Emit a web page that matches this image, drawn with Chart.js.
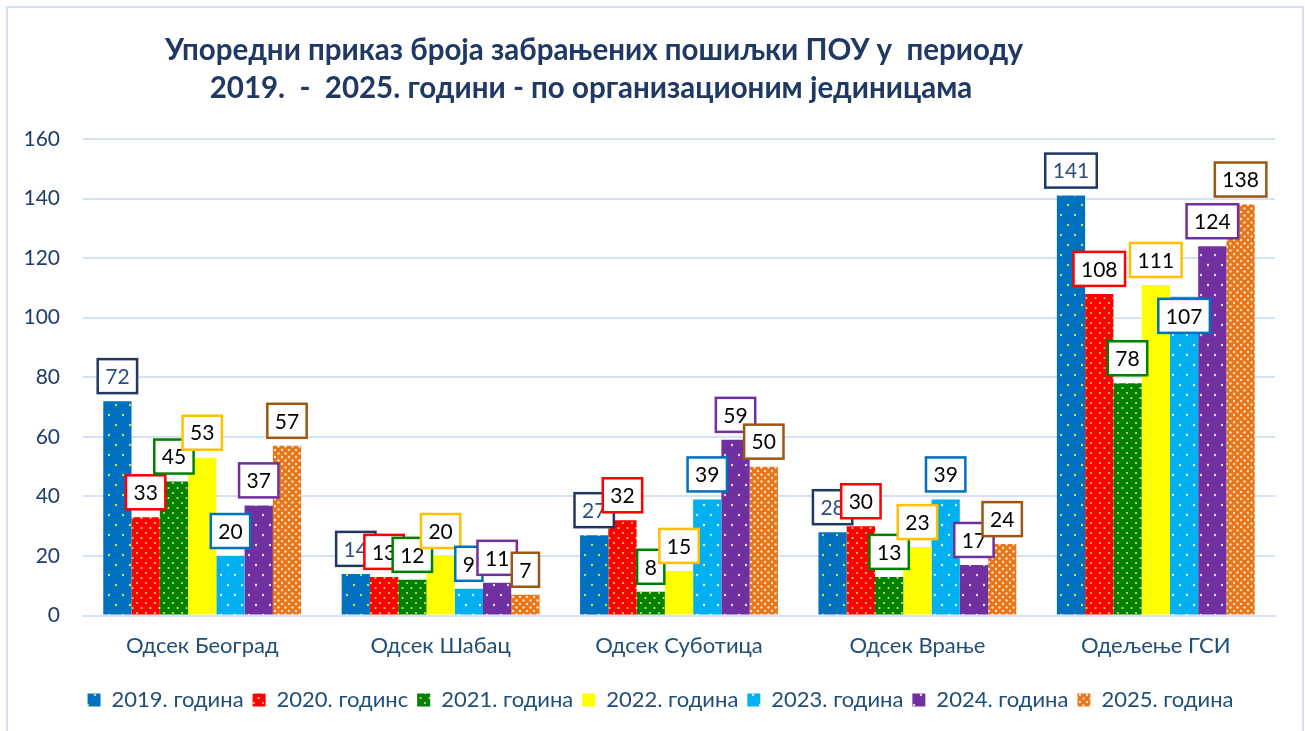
<!DOCTYPE html>
<html>
<head>
<meta charset="utf-8">
<script src="https://cdn.jsdelivr.net/npm/chart.js@4.4.1/dist/chart.umd.min.js"></script>
<style>
  body { margin: 0; background: #fff; }
  #wrap { position: absolute; left: 0; top: 0; width: 1305px; height: 731px; }
  #frame { position: absolute; left: 6px; top: 6px; width: 1294px; height: 740px; border: 2px solid #D5E2F3; pointer-events: none; }
</style>
</head>
<body>
<div id="wrap"><canvas id="chart"></canvas></div>
<div id="frame"></div>
<script>
// categories and values
var categories = ['Одсек Београд', 'Одсек Шабац', 'Одсек Суботица', 'Одсек Врање', 'Одељење ГСИ'];
var seriesNames = ['2019. година', '2020. годинс', '2021. година', '2022. година', '2023. година', '2024. година', '2025. година'];
var y2019 = [72, 14, 27, 28, 141];
var y2020 = [33, 13, 32, 30, 108];
var y2021 = [45, 12, 8, 13, 78];
var y2022 = [53, 20, 15, 23, 111];
var y2023 = [20, 9, 39, 39, 107];
var y2024 = [37, 11, 59, 17, 124];
var y2025 = [57, 7, 50, 24, 138];
var yTicks = [0, 20, 40, 60, 80, 100, 120, 140, 160];

var titleLines = ['Упоредни приказ броја забрањених пошиљки ПОУ у  периоду',
                  '2019.  -  2025. години - по организационим јединицама'];

var FONT = "Lato, 'Noto Sans', sans-serif";

// dotted fills like the office pattern fills
function dots(bg, dot, w, h, pts, r) {
    var c = document.createElement('canvas');
    c.width = w; c.height = h;
    var g = c.getContext('2d');
    g.fillStyle = bg;
    g.fillRect(0, 0, w, h);
    g.fillStyle = dot;
    pts.forEach(function (p) {
        g.beginPath();
        g.arc(p[0], p[1], r, 0, Math.PI * 2);
        g.fill();
    });
    return g.createPattern(c, 'repeat');
}
var fills = [
    dots('#0070C0', '#C6DE4A', 14, 20, [[4, 5], [11, 15]], 1.2),
    dots('#FF0000', '#F7E03A', 9, 10, [[2, 3], [6.5, 8]], 1.1),
    dots('#008000', '#E3E83A', 9, 10, [[2, 3], [6.5, 8]], 1.1),
    '#FFFF00',
    dots('#00B0F0', '#E8F8FF', 14, 20, [[4, 5], [11, 15]], 1.2),
    dots('#7030A0', '#E6DDF0', 14, 20, [[4, 5], [11, 15]], 1.2),
    dots('#E97516', '#FBE3CE', 7, 7, [[2, 2], [5.5, 5.5]], 1.2)
];
var boxColors = ['#1F3864', '#FF0000', '#008000', '#FFC000', '#0070C0', '#7030A0', '#9C5710'];
var labelText = ['#2F4E7E', '#000', '#000', '#000', '#000', '#000', '#000'];
var allSeries = [y2019, y2020, y2021, y2022, y2023, y2024, y2025];

var datasets = allSeries.map(function (vals, i) {
    return {
        label: seriesNames[i],
        data: vals,
        backgroundColor: fills[i],
        borderWidth: 0
    };
});

// boxed value labels above the bars
var boxLabels = {
    id: 'boxLabels',
    afterDatasetsDraw: function (chart, args, opts) {
        var ctx = chart.ctx;
        ctx.save();
        ctx.font = '21px ' + FONT;
        ctx.textAlign = 'center';
        ctx.textBaseline = 'middle';
        chart.data.datasets.forEach(function (ds, i) {
            chart.getDatasetMeta(i).data.forEach(function (el, j) {
                var txt = String(ds.data[j]);
                var w = ctx.measureText(txt).width + 15;
                var h = 34;
                var nudge = (opts.nudge[i + '-' + j] || 0);
                var bottom = el.y - 8 + nudge;
                ctx.fillStyle = '#fff';
                ctx.fillRect(el.x - w / 2, bottom - h, w, h);
                ctx.lineWidth = 2.5;
                ctx.strokeStyle = boxColors[i];
                ctx.strokeRect(el.x - w / 2, bottom - h, w, h);
                ctx.fillStyle = labelText[i];
                ctx.fillText(txt, el.x, bottom - h / 2 + 1);
            });
        });
        ctx.restore();
    }
};

// two-line title, a bit left of centre as in the source
var titleText = {
    id: 'titleText',
    afterDraw: function (chart) {
        var ctx = chart.ctx;
        ctx.save();
        ctx.font = 'bold 29.5px ' + FONT;
        ctx.fillStyle = '#1F3864';
        ctx.textAlign = 'center';
        ctx.textBaseline = 'middle';
        ctx.fillText(titleLines[0], 594, 50);
        ctx.fillText(titleLines[1], 591, 88);
        ctx.restore();
    }
};

// legend sits a little right of the chart centre in the source
var legendShift = {
    id: 'legendShift',
    afterLayout: function (chart) {
        chart.legend.left += 19;
        chart.legend.right += 19;
    }
};

var ctx1 = document.getElementById('chart').getContext('2d');
var chart = new Chart(ctx1, {
    type: 'bar',
    data: {
        labels: categories,
        datasets: datasets
    },
    options: {
        responsive: true,
        maintainAspectRatio: false,
        animation: false,
        layout: {
            padding: { top: 139, left: 8, right: 30, bottom: 10 }
        },
        datasets: {
            bar: { barPercentage: 1, categoryPercentage: 0.83 }
        },
        scales: {
            y: {
                min: 0,
                max: 160,
                afterBuildTicks: function (scale) {
                    scale.ticks = yTicks.map(function (v) { return { value: v }; });
                },
                afterFit: function (scale) { scale.width = 75; },
                border: { display: false },
                grid: { color: '#D5E2F3', lineWidth: 2, drawTicks: false },
                ticks: { padding: 23, color: '#1F3D6B', font: { family: FONT, size: 21 } }
            },
            x: {
                afterFit: function (scale) { scale.height += 12; },
                grid: { display: false },
                border: { color: '#D5E2F3', width: 2 },
                ticks: { padding: 9, color: '#1F4E79', font: { family: FONT, size: 22 } }
            }
        },
        plugins: {
            legend: {
                display: true,
                position: 'bottom',
                labels: {
                    boxWidth: 13,
                    boxHeight: 13,
                    padding: 9,
                    color: '#1F4E79',
                    font: { family: FONT, size: 22 }
                }
            },
            tooltip: { enabled: false },
            boxLabels: { nudge: { '4-4': 44 } }
        }
    },
    plugins: [boxLabels, titleText, legendShift]
});
</script>
</body>
</html>
